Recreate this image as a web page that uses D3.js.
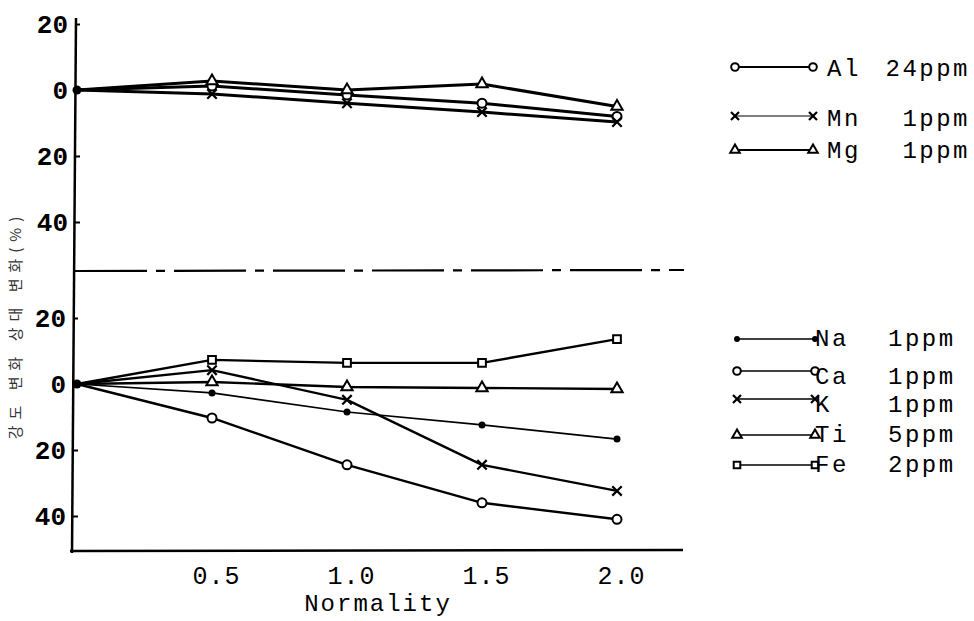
<!DOCTYPE html>
<html>
<head>
<meta charset="utf-8">
<script src="https://cdn.jsdelivr.net/npm/d3@7"></script>
<style>
  html, body { margin: 0; padding: 0; background: #fff; }
  svg { display: block; }
</style>
</head>
<body>
<svg id="chart" width="974" height="621"></svg>
<script>
// ---------- data ----------
const normality = [0, 0.5, 1.0, 1.5, 2.0];
const xTickValues = [0.5, 1.0, 1.5, 2.0];
const xTickLabels = ["0.5", "1.0", "1.5", "2.0"];
const yTickValues = [20, 0, -20, -40];
const yTickLabels = ["20", "0", "20", "40"];

// upper panel (relative change, %, positive = up)
const upperNames = ["Al", "Mn", "Mg"];
const upperConc = ["24ppm", "1ppm", "1ppm"];
const upperMarkers = ["circle", "x", "triangle"];
const alValues = [0, 1.2, -1.5, -4.0, -8.0];
const mnValues = [0, -1.2, -4.0, -6.7, -9.7];
const mgValues = [0, 2.7, 0.0, 1.8, -5.0];

// lower panel
const lowerNames = ["Na", "Ca", "K", "Ti", "Fe"];
const lowerConc = ["1ppm", "1ppm", "1ppm", "5ppm", "2ppm"];
const lowerMarkers = ["dot", "circle", "x", "triangle", "square"];
const naValues = [0, -2.7, -8.5, -12.4, -16.7];
const caValues = [0, -10.3, -24.5, -36.0, -41.0];
const kValues = [0, 4.2, -4.8, -24.5, -32.4];
const tiValues = [0, 0.6, -0.9, -1.2, -1.5];
const feValues = [0, 7.3, 6.4, 6.4, 13.6];

const upperSeries = [alValues, mnValues, mgValues];
const lowerSeries = [naValues, caValues, kValues, tiValues, feValues];

const yLabel = "강도 변화 상대 변화(%)";
const xLabel = "Normality";

// ---------- drawing ----------
const svg = d3.select("#chart");
svg.append("rect").attr("width", 974).attr("height", 621).attr("fill", "#fff");

const x = d3.scaleLinear().domain([0, 2]).range([77, 617]);
const yU = d3.scaleLinear().domain([-40, 20]).range([222, 24]);
const yL = d3.scaleLinear().domain([-40, 20]).range([516, 318]);

const MONO = "'Liberation Mono', 'DejaVu Sans Mono', monospace";

// axes lines
svg.append("line").attr("x1", 76).attr("y1", 18).attr("x2", 72).attr("y2", 553)
  .attr("stroke", "#000").attr("stroke-width", 2.5);
svg.append("line").attr("x1", 70).attr("y1", 551).attr("x2", 683).attr("y2", 550)
  .attr("stroke", "#000").attr("stroke-width", 2.5);

// divider dashed line
svg.append("line").attr("x1", 75).attr("y1", 271).attr("x2", 684).attr("y2", 270)
  .attr("stroke", "#000").attr("stroke-width", 2.2)
  .attr("stroke-dasharray", "72,9,9,9");

function yAxis(scale, tx) {
  const ax = d3.axisLeft(scale)
    .tickValues(yTickValues)
    .tickFormat((d, i) => yTickLabels[i])
    .tickSize(-5)
    .tickPadding(7);
  const g = svg.append("g").attr("transform", `translate(${tx},0)`).call(ax);
  g.select(".domain").remove();
  g.selectAll(".tick line").attr("stroke", "#000").attr("stroke-width", 2);
  g.selectAll(".tick text")
    .attr("font-family", MONO).attr("font-weight", "bold")
    .attr("font-size", 26).attr("fill", "#000");
}
yAxis(yU, 75);
yAxis(yL, 73);

// x axis
const xAx = d3.axisBottom(x)
  .tickValues(xTickValues)
  .tickFormat((d, i) => xTickLabels[i])
  .tickSize(0)
  .tickPadding(16);
const gx = svg.append("g").attr("transform", "translate(4,550)").call(xAx);
gx.select(".domain").remove();
gx.selectAll(".tick text")
  .attr("font-family", MONO).attr("font-size", 25)
  .attr("letter-spacing", 1).attr("fill", "#000");

// axis titles
svg.append("text").attr("x", 378).attr("y", 611)
  .attr("text-anchor", "middle")
  .attr("font-family", MONO).attr("font-size", 24).attr("letter-spacing", 2)
  .attr("fill", "#000").text(xLabel);

svg.append("text")
  .attr("transform", "translate(21,325) rotate(-90)")
  .attr("text-anchor", "middle")
  .attr("font-family", "'Noto Sans CJK KR', sans-serif")
  .attr("font-size", 15).attr("letter-spacing", 6)
  .attr("fill", "#333").text(yLabel);

// markers
const symTimes = d3.symbolTimes || d3.symbolX || d3.symbolCross;
function marker(g, type, cx, cy, scale) {
  const s = scale || 1;
  if (type === "circle") {
    g.append("circle").attr("cx", cx).attr("cy", cy).attr("r", 4.5 * s)
      .attr("fill", "#fff").attr("stroke", "#000").attr("stroke-width", 2);
  } else if (type === "dot") {
    g.append("circle").attr("cx", cx).attr("cy", cy).attr("r", 3.5 * s)
      .attr("fill", "#000");
  } else if (type === "x") {
    g.append("path").attr("transform", `translate(${cx},${cy})`)
      .attr("d", d3.symbol().type(symTimes).size(60 * s * s)())
      .attr("fill", "none").attr("stroke", "#000").attr("stroke-width", 2.2);
  } else if (type === "triangle") {
    g.append("path").attr("transform", `translate(${cx},${cy})`)
      .attr("d", d3.symbol().type(d3.symbolTriangle).size(55 * s * s)())
      .attr("fill", "#fff").attr("stroke", "#000").attr("stroke-width", 2);
  } else if (type === "square") {
    g.append("path").attr("transform", `translate(${cx},${cy})`)
      .attr("d", d3.symbol().type(d3.symbolSquare).size(60 * s * s)())
      .attr("fill", "#fff").attr("stroke", "#000").attr("stroke-width", 2);
  }
}

function drawPanel(series, markers, yScale, widths) {
  const g = svg.append("g");
  series.forEach((vals, si) => {
    const pts = normality.map((n, i) => [n, vals[i]]);
    g.append("path")
      .attr("d", d3.line().x(d => x(d[0])).y(d => yScale(d[1]))(pts))
      .attr("fill", "none").attr("stroke", "#000")
      .attr("stroke-width", widths[si]).attr("stroke-linejoin", "round");
  });
  series.forEach((vals, si) => {
    normality.forEach((n, i) => {
      if (i === 0) return;
      marker(g, markers[si], x(n), yScale(vals[i]));
    });
  });
  // origin blob
  g.append("circle").attr("cx", x(0)).attr("cy", yScale(0)).attr("r", 4.5).attr("fill", "#000");
}
drawPanel(upperSeries, upperMarkers, yU, [3, 3, 3]);
drawPanel(lowerSeries, lowerMarkers, yL, [1.6, 2.4, 2.4, 2.4, 2.4]);

// legends
const LEG_FS = 24, LEG_LS = 2.5;
const upperLegendY = [67, 116, 150];
const upperTextY = [76, 126, 158];
upperNames.forEach((name, i) => {
  const g = svg.append("g");
  g.append("line").attr("x1", 735).attr("x2", 813)
    .attr("y1", upperLegendY[i]).attr("y2", upperLegendY[i])
    .attr("stroke", "#000").attr("stroke-width", i === 1 ? 1.2 : 1.8);
  marker(g, upperMarkers[i], 735, upperLegendY[i], 0.85);
  marker(g, upperMarkers[i], 813, upperLegendY[i], 0.85);
  g.append("text").attr("x", 827).attr("y", upperTextY[i])
    .attr("font-family", MONO).attr("font-size", LEG_FS).attr("letter-spacing", LEG_LS)
    .attr("fill", "#000").text(name);
  g.append("text").attr("x", 970).attr("y", upperTextY[i])
    .attr("text-anchor", "end")
    .attr("font-family", MONO).attr("font-size", LEG_FS).attr("letter-spacing", LEG_LS)
    .attr("fill", "#000").text(upperConc[i]);
});

const lowerLegendY = [339, 371, 399, 435, 465];
const lowerTextY = [346, 384, 412, 442, 472];
lowerNames.forEach((name, i) => {
  const g = svg.append("g");
  g.append("line").attr("x1", 737).attr("x2", 815)
    .attr("y1", lowerLegendY[i]).attr("y2", lowerLegendY[i])
    .attr("stroke", "#000").attr("stroke-width", 1.6);
  marker(g, lowerMarkers[i], 737, lowerLegendY[i], 0.85);
  marker(g, lowerMarkers[i], 815, lowerLegendY[i], 0.85);
  g.append("text").attr("x", 815).attr("y", lowerTextY[i])
    .attr("font-family", MONO).attr("font-size", LEG_FS).attr("letter-spacing", LEG_LS)
    .attr("fill", "#000").text(name);
  g.append("text").attr("x", 888).attr("y", lowerTextY[i])
    .attr("font-family", MONO).attr("font-size", LEG_FS).attr("letter-spacing", LEG_LS)
    .attr("fill", "#000").text(lowerConc[i]);
});
</script>
</body>
</html>
